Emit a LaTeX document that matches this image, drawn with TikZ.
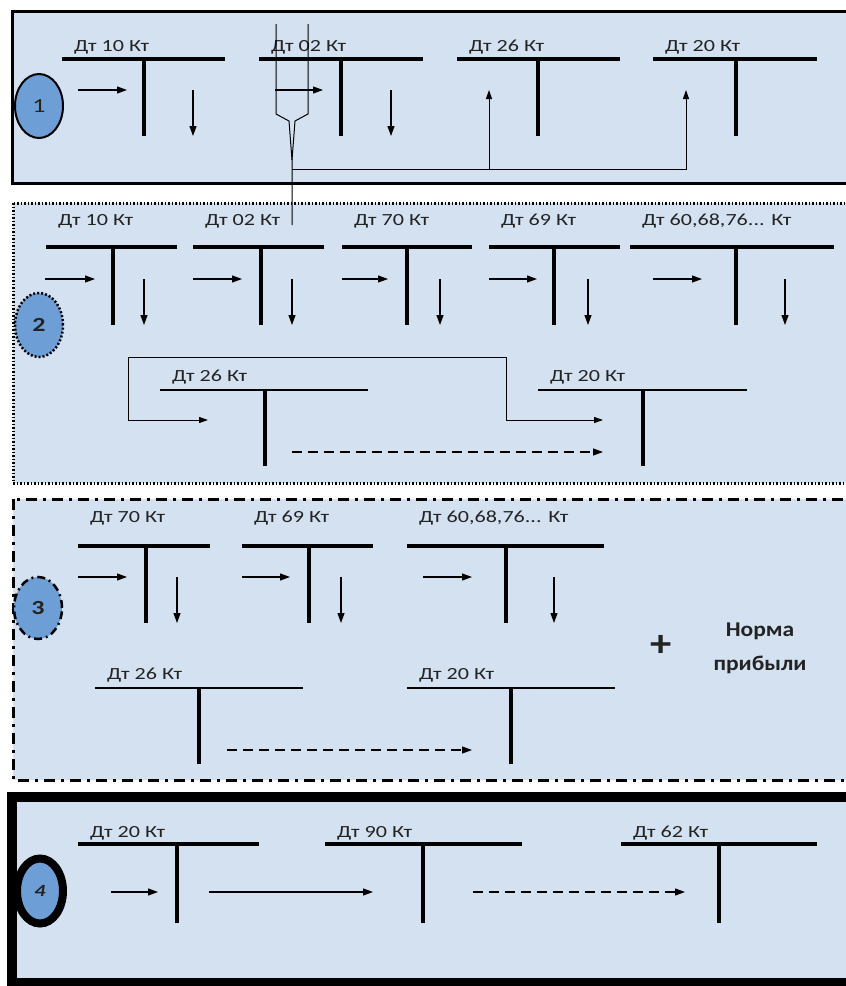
\documentclass[tikz,border=0pt]{standalone}
\usepackage{fontspec}
\usepackage{xcolor}
\newfontfamily\accfont{Carlito}[FakeStretch=1.3]
\newfontfamily\normfont{Carlito}[FakeStretch=1.12]
\usetikzlibrary{arrows.meta}
\usetikzlibrary{shapes.geometric}
\definecolor{panelblue}{RGB}{212,225,241}
\definecolor{ballblue}{RGB}{110,158,214}
\definecolor{inkgray}{RGB}{35,35,35}

\newcommand{\Tacc}[9][thickbar]{%
	\node[acclabel] (#2) at (#4+12,#9) {#3};
	\coordinate (#2l) at (#4,#7); \coordinate (#2r) at (#6,#7);
	\coordinate (#2t) at (#5,#7); \coordinate (#2b) at (#5,#8);
	\draw[#1] (#2l) -- (#2r); \draw[tleg] (#2t) -- (#2b);
}

\begin{document}
\begin{tikzpicture}[x=1pt,y=-1pt,
	acclabel/.style={anchor=west,inner sep=0pt,font=\accfont\fontsize{17}{19}\selectfont,text=inkgray},
	thickbar/.style={line width=4pt},
	thinbar/.style={line width=2.5pt},
	midbar/.style={line width=3.2pt},
	tleg/.style={line width=4pt},
	flow/.style={line width=1.1pt,-{Triangle[length=10pt,width=7pt]}},
	lagflow/.style={flow,dash pattern=on 10pt off 6pt},
	wire/.style={line width=1pt,draw=black},
	wirearrow/.style={wire,-{Triangle[length=9pt,width=6pt]}},
	ball/.style={ellipse,fill=ballblue,minimum width=48pt,minimum height=64pt,inner sep=0pt,font=\accfont\fontsize{20}{22}\selectfont,text=inkgray},
	panel/.style={fill=panelblue}]
\useasboundingbox (0,0) rectangle (846,986);
\fill[white] (0,0) rectangle (846,986);

\filldraw[panel,line width=3pt] (12,11) rectangle (847,183);
\filldraw[panel,line width=3pt,dash pattern=on 1.5pt off 2pt] (13,203) rectangle (849,483);
\filldraw[panel,line width=3pt,dash pattern=on 11pt off 6pt on 3pt off 6pt] (13,499) rectangle (849,780);
\filldraw[panel,line width=10pt] (12,797) rectangle (852,983);

\node[ball,draw,line width=2pt] (one) at (39,106) {1};
\node[ball,draw,line width=2.5pt,dash pattern=on 2pt off 2pt,font=\accfont\bfseries\fontsize{20}{22}\selectfont] (two) at (39,325) {2};
\node[ball,draw,line width=2.5pt,dash pattern=on 8pt off 4pt on 2pt off 4pt,font=\accfont\bfseries\fontsize{20}{22}\selectfont,minimum height=62pt] (three) at (38,608) {3};
\node[ball,draw,line width=8pt,minimum width=46pt,minimum height=65pt,font=\accfont\bfseries\itshape\fontsize{17}{20}\selectfont] (four) at (40,891) {4};

\Tacc{pa}{Дт 10 Кт}{62}{144}{225}{59}{136}{47}
\Tacc{pb}{Дт 02 Кт}{259}{341}{423}{59}{136}{47}
\Tacc{pc}{Дт 26 Кт}{457}{538}{620}{59}{136}{47}
\Tacc{pd}{Дт 20 Кт}{653}{736}{817}{59}{136}{47}
\draw[flow] (78,90) -- (127,90); \draw[flow] (193,90) -- (193,136);
\draw[flow] (275,90) -- (323,90); \draw[flow] (391,90) -- (391,136);

\coordinate (brl) at (276,24); \coordinate (brr) at (308,24);
\coordinate (brj) at (292,160); \coordinate (brend) at (292,225); \coordinate (brh) at (292,169);
\coordinate (inc) at (489,90); \coordinate (ind) at (686,90);
\draw[wire] (brl) -- (276,114) -- (289,121) -- (brj) -- (brend);
\draw[wire] (brr) -- (308,114) -- (295,121) -- (brj);
\draw[wirearrow] (brh) -- (ind |- brh) -- (ind);
\draw[wirearrow] (inc |- brh) -- (inc);

\Tacc{qa}{Дт 10 Кт}{46}{113}{177}{247}{325}{221}
\Tacc{qb}{Дт 02 Кт}{193}{261}{324}{247}{325}{221}
\Tacc{qc}{Дт 70 Кт}{342}{407}{472}{247}{325}{221}
\Tacc{qd}{Дт 69 Кт}{489}{554}{620}{247}{325}{221}
\Tacc{qe}{Дт 60,68,76... Кт}{630}{736}{834}{247}{325}{221}
\draw[flow] (45,279) -- (95,279); \draw[flow] (144,279) -- (144,325);
\draw[flow] (193,279) -- (242,279); \draw[flow] (292,279) -- (292,325);
\draw[flow] (342,279) -- (388,279); \draw[flow] (440,279) -- (440,325);
\draw[flow] (489,279) -- (537,279); \draw[flow] (588,279) -- (588,325);
\draw[flow] (653,279) -- (702,279); \draw[flow] (785,279) -- (785,325);

\Tacc[thinbar]{qf}{Дт 26 Кт}{160}{265}{368}{390}{466}{377}
\Tacc[thinbar]{qg}{Дт 20 Кт}{538}{643}{747}{390}{466}{377}
\coordinate (inf) at (208,420); \coordinate (ing) at (603,420);
\draw[wire,{Triangle[length=9pt,width=6pt]}-{Triangle[length=9pt,width=6pt]}] (inf) -- (128,420) -- (128,357) -- (506,357) -- (506,420) -- (ing);
\draw[lagflow] (292,452) -- (603,452);

\Tacc{ra}{Дт 70 Кт}{78}{146}{210}{546}{623}{518}
\Tacc{rb}{Дт 69 Кт}{242}{309}{373}{546}{623}{518}
\Tacc{rc}{Дт 60,68,76... Кт}{407}{506}{604}{546}{623}{518}
\draw[flow] (78,577) -- (127,577); \draw[flow] (177,577) -- (177,623);
\draw[flow] (242,577) -- (290,577); \draw[flow] (341,577) -- (341,623);
\draw[flow] (423,577) -- (472,577); \draw[flow] (554,577) -- (554,623);

\Tacc[thinbar]{rd}{Дт 26 Кт}{95}{199}{303}{688}{764}{675}
\Tacc[thinbar]{re}{Дт 20 Кт}{407}{511}{615}{688}{764}{675}
\draw[lagflow] (227,750) -- (472,750);
\node[font=\normfont\bfseries\fontsize{38}{38}\selectfont,text=inkgray] (plus) at (661,646) {+};
\node[font=\normfont\bfseries\fontsize{21}{34}\selectfont,text=inkgray,align=center] (norm) at (760,648) {Норма\\прибыли};

\Tacc[midbar]{sa}{Дт 20 Кт}{78}{177}{259}{844}{923}{833}
\Tacc[midbar]{sb}{Дт 90 Кт}{325}{423}{522}{844}{923}{833}
\Tacc[midbar]{sc}{Дт 62 Кт}{621}{719}{817}{844}{923}{833}
\draw[flow] (111,892) -- (158,892);
\draw[flow] (209,892) -- (373,892);
\draw[lagflow] (473,892) -- (685,892);
\end{tikzpicture}
\end{document}
